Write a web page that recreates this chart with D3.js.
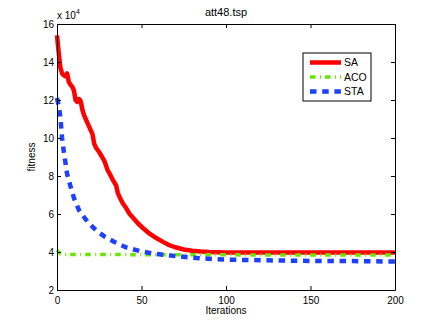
<!DOCTYPE html>
<html>
<head>
<meta charset="utf-8">
<script src="https://cdn.jsdelivr.net/npm/d3@7"></script>
<style>
  html, body { margin: 0; padding: 0; background: #fff; }
  svg { display: block; font-family: "Liberation Sans", Arial, Helvetica, sans-serif; }
</style>
</head>
<body>
<svg id="chart" width="436" height="327"></svg>
<script>
// ---- data (fitness in units of 1e4) ----
const title = "att48.tsp";
const xLabel = "Iterations";
const yLabel = "fitness";
const xTicks = [0, 50, 100, 150, 200];
const yTicks = [2, 4, 6, 8, 10, 12, 14, 16];
const seriesNames = ["SA", "ACO", "STA"];

const saIter = [0,1,2,3,4,5,6,7,8,9,10,11,12,13,14,15,16,18,20,21,22,23,25,27,28,30,31,33,34,35,36,37,39,41,43,45,48,51,55,59,63,66,70,75,80,85,90,100,150,200];
const saFit  = [15.4,14.5,13.7,13.4,13.3,13.25,13.4,12.95,12.8,12.7,12.5,12.0,11.9,12.05,11.95,11.5,11.2,10.8,10.4,10.2,9.7,9.5,9.25,8.95,8.8,8.3,8.15,7.8,7.65,7.5,7.1,6.9,6.55,6.3,6.0,5.8,5.5,5.25,4.95,4.72,4.52,4.38,4.25,4.13,4.07,4.03,4.0,3.98,3.97,3.97];

const acoIter = [0,2,4,50,100,150,200];
const acoFit  = [4.1,3.9,3.87,3.86,3.85,3.84,3.84];

const staIter = [0,1,2,3,4,5,6,8,10,13,18,23,28,34,41,49,56,63,70,78,85,93,100,125,150,175,200];
const staFit  = [12.1,11.7,11.1,10.0,9.3,8.7,8.1,7.45,6.85,6.2,5.6,5.15,4.82,4.53,4.24,4.05,3.93,3.85,3.79,3.72,3.67,3.62,3.6,3.56,3.53,3.52,3.5];

// ---- layout ----
const svg = d3.select("#chart");
const L = 57, R = 395, T = 24, B = 290;
const x = d3.scaleLinear().domain([0, 200]).range([L, R]);
const y = d3.scaleLinear().domain([2, 16]).range([B, T]);

const series = [
  { name: seriesNames[0], xs: saIter,  ys: saFit,  color: "#ff0000", width: 4.5, dash: null },
  { name: seriesNames[1], xs: acoIter, ys: acoFit, color: "#66e600", width: 3.5, dash: "5.5,4.5,1,4" },
  { name: seriesNames[2], xs: staIter, ys: staFit, color: "#1f3fff", width: 4.5, dash: "6.5,5.7" }
];

const line = d3.line().x(d => x(d[0])).y(d => y(d[1]));

const plot = svg.append("g");
series.forEach(s => {
  const pts = s.xs.map((v, i) => [v, s.ys[i]]);
  plot.append("path")
    .datum(pts)
    .attr("d", line)
    .attr("fill", "none")
    .attr("stroke", s.color)
    .attr("stroke-width", s.width)
    .attr("stroke-linejoin", "round")
    .attr("stroke-dasharray", s.dash);
});

// ---- axes ----
function styleAxis(g) {
  g.selectAll("path.domain").attr("stroke", "#000").attr("stroke-width", 1);
  g.selectAll(".tick line").attr("stroke", "#000").attr("stroke-width", 1);
  g.selectAll("text").attr("fill", "#000").attr("font-size", "10px")
    .attr("font-family", "'Liberation Sans', Arial, sans-serif");
}

svg.append("g").attr("transform", `translate(0,${B})`)
  .call(d3.axisBottom(x).tickValues(xTicks).tickSizeInner(-4).tickSizeOuter(0).tickPadding(7))
  .call(styleAxis);
svg.append("g").attr("transform", `translate(0,${T})`)
  .call(d3.axisTop(x).tickValues(xTicks).tickSizeInner(-4).tickSizeOuter(0).tickFormat(""))
  .call(styleAxis);
svg.append("g").attr("transform", `translate(${L},0)`)
  .call(d3.axisLeft(y).tickValues(yTicks).tickSizeInner(-4).tickSizeOuter(0).tickPadding(3))
  .call(styleAxis);
svg.append("g").attr("transform", `translate(${R},0)`)
  .call(d3.axisRight(y).tickValues(yTicks).tickSizeInner(-4).tickSizeOuter(0).tickFormat(""))
  .call(styleAxis);

// ---- labels ----
svg.append("text").attr("x", (L + R) / 2).attr("y", 16)
  .attr("text-anchor", "middle").attr("font-size", "11px").text(title);
svg.append("text").attr("x", (L + R) / 2).attr("y", 314)
  .attr("text-anchor", "middle").attr("font-size", "10px").text(xLabel);
svg.append("text").attr("transform", `translate(35,${(T + B) / 2}) rotate(-90)`)
  .attr("text-anchor", "middle").attr("font-size", "10px").text(yLabel);

const exp = svg.append("text").attr("x", L).attr("y", 19).attr("font-size", "10px");
exp.append("tspan").text("x 10");
exp.append("tspan").attr("font-size", "7px").attr("dy", -5).text("4");

// ---- legend ----
const lg = svg.append("g");
lg.append("rect").attr("x", 303).attr("y", 53).attr("width", 68).attr("height", 48)
  .attr("fill", "#fff").attr("stroke", "#000").attr("stroke-width", 1);
const rowY = [62.5, 77, 91.5];
series.forEach((s, i) => {
  lg.append("line").attr("x1", 310).attr("x2", 341).attr("y1", rowY[i]).attr("y2", rowY[i])
    .attr("stroke", s.color).attr("stroke-width", s.width).attr("stroke-dasharray", s.dash);
  lg.append("text").attr("x", 344).attr("y", rowY[i]).attr("dy", "0.35em")
    .attr("font-size", "10.5px").text(s.name);
});
</script>
</body>
</html>
